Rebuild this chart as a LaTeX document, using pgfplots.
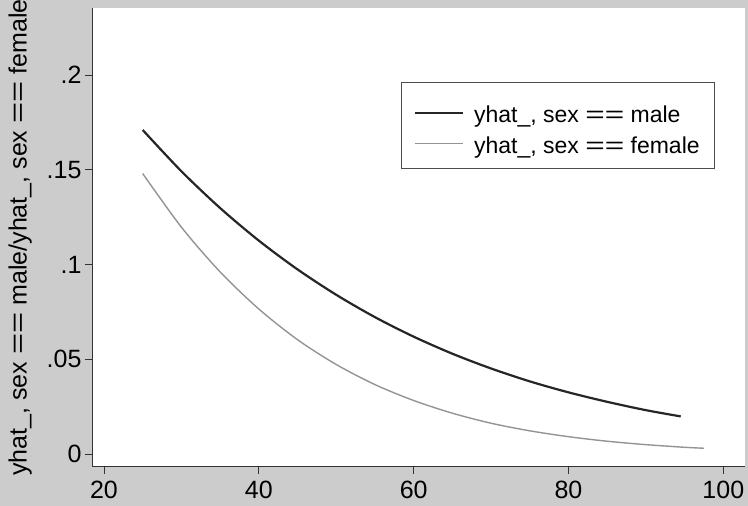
\documentclass[border=0pt]{standalone}
\usepackage{fontspec}
\setmainfont{Liberation Sans}
\usepackage{graphicx}
\usepackage{pgfplots}
\pgfplotsset{compat=1.18}
\definecolor{bggray}{gray}{0.80}
\newcommand{\eqeq}{\scalebox{1.45}[1]{==}}
\begin{document}
\begin{tikzpicture}
\useasboundingbox (0,0) rectangle (748pt,506pt);
\fill[bggray] (0,0) rectangle (748pt,506pt);
\begin{axis}[
  at={(92pt,39pt)}, anchor=south west,
  scale only axis, width=653pt, height=459pt,
  xmin=18.45, xmax=102.8, ymin=-0.0069, ymax=0.2354,
  axis x line*=bottom, axis y line*=left,
  axis line style={line width=1pt, black!80},
  axis background/.style={fill=white},
  xtick={20,40,60,80,100},
  xticklabels={20,40,60,80,100},
  ytick={0,0.05,0.1,0.15,0.2},
  yticklabels={0,.05,.1,.15,.2},
  tick align=outside, major tick length=7pt,
  tick style={line width=0.8pt, black!80},
  ticklabel style={font=\fontsize{25}{30}\selectfont},
  xticklabel style={yshift=-4pt},
  /pgf/number format/assume math mode=true,
  ylabel={yhat\_, sex \eqeq{} male/yhat\_, sex \eqeq{} female},
  ylabel style={font=\fontsize{25}{30}\selectfont, at={(axis description cs:-0.11,0.5)}, anchor=center},
  legend style={at={(axis description cs:0.954,0.839)}, anchor=north east,
    draw=black!70, line width=0.6pt, fill=white,
    font=\fontsize{23}{27}\selectfont, inner xsep=13pt, inner ysep=12.5pt,
    row sep=1pt, nodes={inner sep=2pt, text height=26pt, text depth=0pt}},
  legend cell align=left,
  legend image code/.code={\draw[#1] (0pt,-3pt) -- (48pt,-3pt); \path (56pt,-3pt);},
]
\addplot[line width=2.2pt, black!85, smooth] coordinates {
 (25,0.1710) (30,0.1492) (35,0.1298) (40,0.1126) (45,0.0974) (50,0.0840)
 (55,0.0722) (60,0.0619) (65,0.0529) (70,0.0451) (75,0.0383) (80,0.0325)
 (85,0.0275) (90,0.0231) (94.5,0.0198)};
\addlegendentry{yhat\_, sex \eqeq{} male}
\addplot[line width=1.4pt, black!42, smooth] coordinates {
 (25,0.1480) (30,0.1197) (35,0.0961) (40,0.0765) (45,0.0603) (50,0.0472)
 (55,0.0366) (60,0.0282) (65,0.0215) (70,0.0162) (75,0.0122) (80,0.0091)
 (85,0.0067) (90,0.0049) (95,0.0035) (97.5,0.0030)};
\addlegendentry{yhat\_, sex \eqeq{} female}
\end{axis}
\end{tikzpicture}
\end{document}
